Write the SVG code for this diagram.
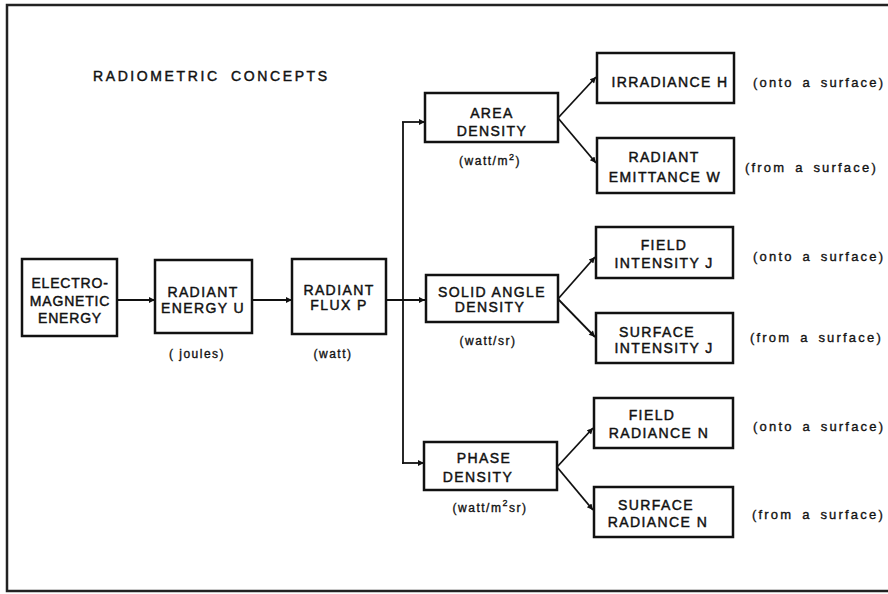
<svg xmlns="http://www.w3.org/2000/svg" width="888" height="594" viewBox="0 0 888 594">
<style>
.box{fill:#fff;stroke:#111;stroke-width:2.5}
.t{font-family:"Liberation Sans",Arial,sans-serif;font-size:14px;letter-spacing:1.4px;fill:#111;stroke:#111;stroke-width:0.45px;text-anchor:middle}
.u{font-family:"Liberation Sans",Arial,sans-serif;font-size:12px;letter-spacing:1.5px;fill:#111;stroke:#111;stroke-width:0.35px;text-anchor:middle}
.s{font-family:"Liberation Sans",Arial,sans-serif;font-size:13px;letter-spacing:2.2px;word-spacing:3px;fill:#111;stroke:#111;stroke-width:0.35px}
.c{fill:none;stroke:#111;stroke-width:1.8}
</style>
<defs>
<marker id="ah" viewBox="0 0 10 10" refX="10" refY="5" markerWidth="9" markerHeight="6" markerUnits="userSpaceOnUse" orient="auto">
<path d="M0,0 L10,5 L0,10 z" fill="#111"/>
</marker>
</defs>
<rect width="888" height="594" fill="#fff"/>
<rect x="7" y="5" width="900" height="586" fill="none" stroke="#222" stroke-width="2.5"/>
<text x="93" y="81" class="s" style="font-size:14px;letter-spacing:2.6px;word-spacing:5px;stroke-width:0.45px">RADIOMETRIC CONCEPTS</text>

<g id="connectors">
<line class="c" x1="117" y1="300" x2="155" y2="300" marker-end="url(#ah)"/>
<line class="c" x1="252" y1="300" x2="292" y2="300" marker-end="url(#ah)"/>
<line class="c" x1="386" y1="300" x2="425" y2="300" marker-end="url(#ah)"/>
<line class="c" x1="403" y1="122" x2="403" y2="464"/>
<line class="c" x1="402" y1="122" x2="425" y2="122" marker-end="url(#ah)"/>
<line class="c" x1="402" y1="463" x2="424" y2="463" marker-end="url(#ah)"/>
<line class="c" x1="558" y1="118" x2="596" y2="77" marker-end="url(#ah)"/>
<line class="c" x1="558" y1="118" x2="596" y2="163" marker-end="url(#ah)"/>
<line class="c" x1="558" y1="299" x2="595" y2="257" marker-end="url(#ah)"/>
<line class="c" x1="558" y1="299" x2="595" y2="337" marker-end="url(#ah)"/>
<line class="c" x1="557" y1="467" x2="593" y2="428" marker-end="url(#ah)"/>
<line class="c" x1="557" y1="467" x2="593" y2="510" marker-end="url(#ah)"/>
</g>

<g id="em">
<rect class="box" x="22" y="259" width="95" height="77"/>
<text class="t" x="70" y="288" style="letter-spacing:0.8px">ELECTRO-</text>
<text class="t" x="70" y="306" style="letter-spacing:0.8px">MAGNETIC</text>
<text class="t" x="70" y="323" style="letter-spacing:0.8px">ENERGY</text>
</g>
<g id="energy">
<rect class="box" x="155" y="260" width="97" height="73"/>
<text class="t" x="203" y="297">RADIANT</text>
<text class="t" x="203" y="313">ENERGY U</text>
<text class="u" x="197" y="358">( joules)</text>
</g>
<g id="flux">
<rect class="box" x="292" y="259" width="94" height="75"/>
<text class="t" x="339" y="295">RADIANT</text>
<text class="t" x="339" y="310">FLUX P</text>
<text class="u" x="333" y="358">(watt)</text>
</g>
<g id="area">
<rect class="box" x="425" y="93" width="133" height="49"/>
<text class="t" x="492" y="118">AREA</text>
<text class="t" x="492" y="136">DENSITY</text>
<text class="u" x="490" y="165">(watt/m<tspan dy="-5" font-size="9">2</tspan><tspan dy="5">)</tspan></text>
</g>
<g id="solid">
<rect class="box" x="426" y="275" width="132" height="47"/>
<text class="t" x="492" y="297">SOLID ANGLE</text>
<text class="t" x="490" y="312">DENSITY</text>
<text class="u" x="488" y="345">(watt/sr)</text>
</g>
<g id="phase">
<rect class="box" x="424" y="442" width="133" height="48"/>
<text class="t" x="484" y="463">PHASE</text>
<text class="t" x="478" y="482">DENSITY</text>
<text class="u" x="490" y="512">(watt/m<tspan dy="-6" font-size="9">2</tspan><tspan dy="6">sr)</tspan></text>
</g>
<g id="irradiance">
<rect class="box" x="597" y="53" width="137" height="50"/>
<text class="t" x="670" y="87">IRRADIANCE H</text>
<text class="s" x="753" y="87">(onto a surface)</text>
</g>
<g id="emittance">
<rect class="box" x="597" y="138" width="137" height="55"/>
<text class="t" x="664" y="162">RADIANT</text>
<text class="t" x="665" y="182">EMITTANCE W</text>
<text class="s" x="745" y="172">(from a surface)</text>
</g>
<g id="field-intensity">
<rect class="box" x="596" y="227" width="137" height="51"/>
<text class="t" x="664" y="250">FIELD</text>
<text class="t" x="664" y="268">INTENSITY J</text>
<text class="s" x="753" y="261">(onto a surface)</text>
</g>
<g id="surface-intensity">
<rect class="box" x="596" y="313" width="137" height="50"/>
<text class="t" x="657" y="337">SURFACE</text>
<text class="t" x="664" y="353">INTENSITY J</text>
<text class="s" x="750" y="342">(from a surface)</text>
</g>
<g id="field-radiance">
<rect class="box" x="594" y="398" width="139" height="50"/>
<text class="t" x="652" y="420">FIELD</text>
<text class="t" x="659" y="438">RADIANCE N</text>
<text class="s" x="753" y="431">(onto a surface)</text>
</g>
<g id="surface-radiance">
<rect class="box" x="594" y="487" width="139" height="50"/>
<text class="t" x="656" y="510">SURFACE</text>
<text class="t" x="658" y="527">RADIANCE N</text>
<text class="s" x="752" y="519">(from a surface)</text>
</g>
</svg>
